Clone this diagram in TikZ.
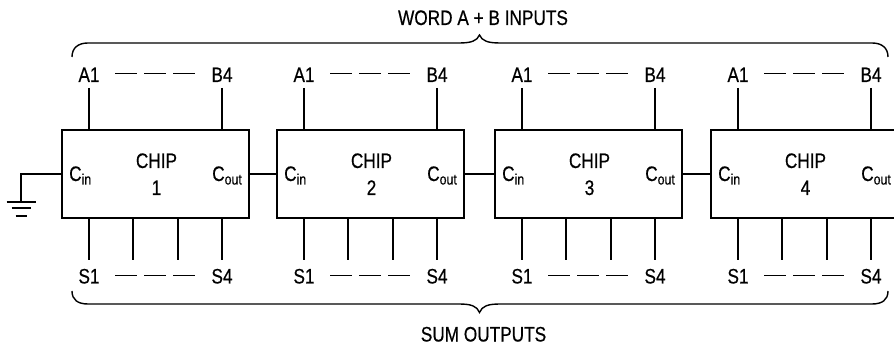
\documentclass[tikz,border=0pt]{standalone}
\usepackage{fontspec}
\setmainfont{Liberation Sans}[FakeStretch=0.82,FakeBold=0.5]
\newcommand\subtxt[1]{\raisebox{-3.5pt}{\fontsize{15}{15}\selectfont #1}}
\begin{document}
\begin{tikzpicture}[x=1pt,y=-1pt,line width=1.4pt,
  chipbox/.style={draw, minimum width=187pt, minimum height=88pt, inner sep=0pt},
  lbl/.style={font=\fontsize{21}{21}\selectfont, inner sep=0pt},
  dashseg/.style={line width=1pt, dash pattern=on 22pt off 7pt}]
\useasboundingbox (0,0) rectangle (894,347);
\clip (0,0) rectangle (894,347);
\foreach \i/\l in {1/62,2/277,3/495,4/711} {
  \node[chipbox] (chip\i) at (\l+93.5,174) {};
  % top pins
  \coordinate (ta\i) at (\l+27,88);
  \coordinate (tb\i) at (\l+160,88);
  \draw (ta\i) -- (ta\i |- chip\i.north);
  \draw (tb\i) -- (tb\i |- chip\i.north);
  \node[lbl,anchor=base] (la\i) at (\l+27,82) {A1};
  \node[lbl,anchor=base] (lb\i) at (\l+160,82) {B4};
  \draw[dashseg] (\l+53,73.5) -- (\l+133,73.5);
  % bottom pins
  \foreach \p [count=\k] in {27,71,116,160} {
    \coordinate (s\i\k) at (\l+\p,260);
    \draw (s\i\k |- chip\i.south) -- (s\i\k);
  }
  \node[lbl,anchor=base] (ls\i) at (\l+27,283.5) {S1};
  \node[lbl,anchor=base] (lt\i) at (\l+160,283.5) {S4};
  \draw[dashseg] (\l+53,276) -- (\l+133,276);
  % inside texts
  \node[lbl,anchor=base] (cn\i) at (\l+94.5,168) {CHIP};
  \node[lbl,anchor=base] (nm\i) at (\l+94.5,195) {\i};
  \node[lbl,anchor=base west] (ci\i) at (\l+6.5,181) {C\subtxt{in}};
  \node[lbl,anchor=base east] (co\i) at (\l+180.5,181) {C\subtxt{out}};
}
\foreach \a/\b in {1/2,2/3,3/4} \draw (chip\a.east) -- (chip\b.west);
% ground
\coordinate (g) at (21,174);
\coordinate (gb) at (21,202);
\draw (chip1.west) -- (g) -- (gb);
\draw ([xshift=-14.5pt]gb) -- ([xshift=14.5pt]gb);
\draw ([xshift=-9.5pt,yshift=-6pt]gb) -- ([xshift=9.5pt,yshift=-6pt]gb);
\draw ([xshift=-5.5pt,yshift=-14pt]gb) -- ([xshift=5.5pt,yshift=-14pt]gb);
% braces
\draw (72,57) .. controls (72,48) and (78,43) .. (88,43) -- (459,43)
  .. controls (471,43) and (477,41) .. (479.5,35)
  .. controls (482,41) and (488,43) .. (500,43) -- (872,43)
  .. controls (882,43) and (888,48) .. (888,57);
\draw (72,291) .. controls (72,300) and (78,304) .. (88,304) -- (459,304)
  .. controls (471,304) and (477,306) .. (479.5,312.5)
  .. controls (482,306) and (488,304) .. (500,304) -- (872,304)
  .. controls (882,304) and (888,300) .. (888,291);
\node[lbl,anchor=base] (top) at (483,25) {WORD A + B INPUTS};
\node[lbl,anchor=base] (bot) at (483.5,341.5) {SUM OUTPUTS};
\end{tikzpicture}
\end{document}
